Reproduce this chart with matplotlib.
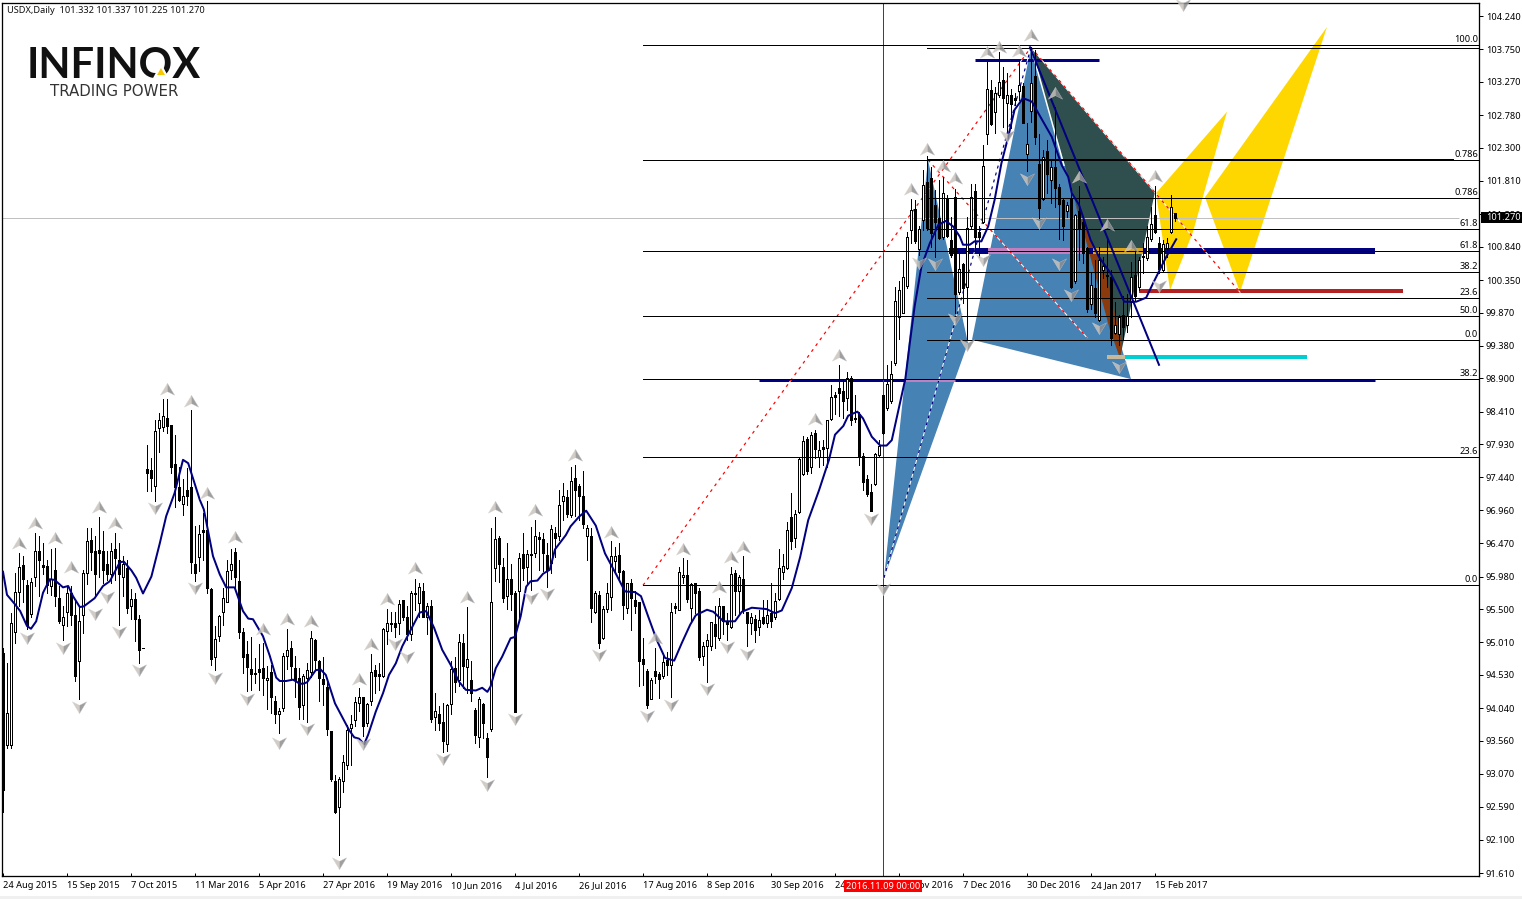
import matplotlib
matplotlib.use("Agg")
import matplotlib.pyplot as plt
import numpy as np
from matplotlib.path import Path
from matplotlib.patches import Polygon, Rectangle

# ======================
# candles
# ======================
body_top = [
    94.85, 93.97, 95.30, 95.75, 96.12, 96.15, 95.86, 95.90, 96.35, 96.35,
    96.15, 96.13, 95.95, 96.07, 95.66, 95.38, 95.74, 95.74, 95.41, 95.33,
    96.03, 96.50, 96.52, 96.35, 96.37, 96.35, 96.17, 96.36, 96.39, 96.23,
    96.16, 96.11, 95.65, 95.65, 95.36, 94.92, 97.56, 97.55, 98.13, 98.28,
    98.35, 98.32, 98.21, 97.64, 97.30, 97.17, 97.26, 97.30, 96.17, 96.61,
    96.66, 96.67, 95.80, 95.06, 95.40, 95.66, 96.06, 96.16, 96.34, 95.92,
    95.16, 94.84, 94.62, 94.56, 94.61, 94.63, 94.49, 94.58, 94.14, 94.00,
    94.81, 94.90, 94.93, 94.63, 94.48, 94.52, 94.60, 95.08, 95.05, 94.73,
    94.47, 94.35, 93.70, 92.97, 93.00, 93.24, 93.72, 93.81, 94.13, 94.20,
    94.20, 94.10, 94.58, 94.60, 94.54, 95.20, 95.29, 95.29, 95.29, 95.58,
    95.64, 95.39, 95.73, 95.73, 95.82, 95.77, 95.54, 95.55, 94.00, 93.95,
    93.84, 94.09, 94.61, 94.63, 95.02, 95.00, 94.76, 94.46, 94.01, 94.18,
    94.10, 93.60, 95.60, 96.54, 96.55, 96.12, 95.95, 95.95, 95.74, 96.26,
    96.31, 96.31, 96.31, 96.58, 96.56, 96.54, 96.29, 96.68, 96.62, 97.04,
    97.16, 97.15, 97.39, 97.43, 97.31, 97.16, 96.69, 96.57, 95.73, 95.71,
    95.50, 95.73, 96.28, 96.28, 96.30, 96.06, 95.89, 95.89, 95.64, 95.60,
    94.76, 94.59, 94.46, 94.59, 94.54, 94.72, 94.75, 95.45, 95.55, 96.04,
    96.00, 96.00, 95.87, 95.88, 95.77, 94.96, 95.05, 95.31, 95.28, 95.55,
    95.54, 95.33, 96.02, 96.03, 95.98, 95.94, 95.45, 95.39, 95.35, 95.34,
    95.38, 95.42, 95.44, 95.62, 96.10, 96.13, 96.66, 96.85, 96.90, 97.71,
    97.97, 98.00, 98.07, 98.10, 97.85, 97.89, 98.28, 98.62, 98.66, 98.76,
    98.72, 98.90, 98.90, 98.31, 98.38, 97.75, 97.41, 97.22, 97.78, 97.90,
    98.66, 98.82, 98.96, 100.04, 100.21, 100.39, 100.98, 101.38, 101.40, 101.10,
    101.75, 101.80, 101.85, 101.46, 101.26, 101.63, 101.55, 100.94, 101.57, 100.51,
    100.59, 101.11, 101.58, 101.66, 101.06, 102.03, 103.16, 103.15, 103.10, 103.27,
    103.30, 103.08, 103.08, 103.03, 103.23, 103.21, 102.36, 103.25, 103.36, 102.06,
    102.17, 102.25, 102.01, 102.02, 101.72, 101.53, 101.46, 101.55, 101.31, 101.36,
    101.21, 100.82, 100.27, 100.23, 100.65, 100.55, 100.43, 100.39, 99.69, 99.80,
    99.83, 99.82, 100.39, 100.43, 100.65, 100.71, 100.98, 101.18, 101.31, 100.90,
    100.88, 100.90, 101.43, 101.332,
]
body_bottom = [
    92.83, 93.50, 93.50, 95.16, 95.75, 95.95, 95.27, 95.43, 95.98, 96.22,
    96.12, 95.86, 95.84, 95.70, 95.33, 95.26, 95.45, 95.42, 94.52, 94.73,
    95.41, 96.03, 96.34, 96.02, 96.32, 96.08, 96.02, 96.02, 96.25, 96.01,
    95.98, 95.52, 95.55, 95.36, 94.90, 94.92, 97.50, 97.43, 97.31, 98.17,
    98.18, 98.20, 97.59, 97.30, 97.11, 97.05, 97.17, 96.19, 96.03, 96.27,
    96.63, 95.81, 94.76, 94.80, 95.10, 95.45, 95.61, 96.07, 95.98, 95.16,
    94.80, 94.65, 94.55, 94.55, 94.58, 94.48, 94.45, 94.21, 93.95, 93.96,
    94.04, 94.81, 94.66, 94.46, 94.05, 94.08, 94.48, 94.58, 94.75, 94.48,
    94.39, 93.73, 92.99, 92.51, 92.59, 92.96, 93.20, 93.74, 93.87, 94.11,
    93.78, 93.82, 94.14, 94.52, 94.52, 94.52, 95.17, 95.28, 95.23, 95.29,
    95.39, 95.13, 95.13, 95.72, 95.59, 95.39, 95.38, 93.88, 93.91, 93.82,
    93.56, 93.51, 94.10, 94.42, 94.46, 94.66, 94.64, 94.27, 93.64, 93.61,
    93.82, 93.32, 93.73, 96.10, 96.17, 95.66, 95.70, 95.72, 93.99, 95.76,
    96.11, 96.12, 96.30, 96.32, 96.54, 96.33, 96.07, 96.18, 96.55, 96.58,
    97.10, 96.90, 96.89, 97.26, 97.16, 96.75, 96.57, 95.51, 95.46, 95.00,
    95.08, 95.50, 95.68, 96.21, 96.05, 95.56, 95.51, 95.67, 95.55, 94.73,
    94.69, 94.09, 94.18, 94.52, 94.47, 94.52, 94.67, 94.67, 95.51, 95.49,
    95.97, 95.65, 95.51, 95.73, 94.80, 94.81, 94.96, 94.95, 95.10, 95.07,
    95.33, 95.28, 95.23, 95.77, 95.76, 95.48, 95.30, 95.29, 95.19, 95.23,
    95.30, 95.30, 95.33, 95.39, 95.65, 96.05, 96.11, 96.50, 96.55, 96.93,
    97.49, 97.53, 97.60, 97.86, 97.74, 97.86, 97.87, 98.30, 98.63, 98.68,
    98.57, 98.61, 98.28, 98.30, 97.76, 97.38, 97.19, 96.94, 97.34, 97.77,
    98.09, 98.46, 98.56, 99.12, 99.80, 99.87, 100.26, 101.08, 100.92, 100.81,
    101.23, 101.11, 101.05, 101.20, 100.97, 100.98, 101.00, 100.72, 100.14, 100.18,
    100.23, 100.24, 101.14, 100.99, 100.99, 101.20, 102.50, 102.65, 102.82, 103.08,
    103.03, 102.96, 102.95, 103.01, 103.14, 102.67, 102.21, 102.84, 102.46, 101.41,
    101.54, 101.91, 101.82, 101.71, 101.47, 101.15, 101.37, 100.24, 100.33, 101.11,
    100.75, 99.92, 100.00, 99.87, 99.76, 100.50, 100.41, 99.50, 99.57, 99.55,
    99.66, 99.68, 100.02, 100.11, 100.24, 100.69, 100.68, 100.95, 101.06, 100.51,
    100.50, 100.82, 101.06, 101.27,
]
highs = [
    94.93, 94.71, 95.44, 96.03, 96.33, 96.28, 95.93, 95.96, 96.62, 96.57,
    96.47, 96.23, 96.39, 96.40, 95.84, 95.54, 95.84, 95.84, 95.64, 95.54,
    96.08, 96.70, 96.70, 96.57, 96.86, 96.65, 96.35, 96.47, 96.62, 96.48,
    96.28, 96.23, 95.79, 95.74, 95.42, 94.92, 97.92, 97.73, 98.29, 98.39,
    98.59, 98.60, 98.22, 98.06, 97.60, 97.41, 97.58, 98.44, 96.72, 96.74,
    96.92, 97.09, 95.81, 95.25, 95.42, 95.81, 96.23, 96.39, 96.40, 96.22,
    95.22, 95.03, 95.09, 94.78, 94.98, 95.00, 94.66, 94.68, 94.22, 94.04,
    94.85, 95.21, 95.03, 94.81, 94.63, 94.55, 94.70, 95.18, 95.06, 94.75,
    94.79, 94.42, 93.71, 93.05, 93.02, 93.35, 93.79, 93.94, 94.21, 94.33,
    94.21, 94.11, 94.84, 94.68, 94.70, 95.22, 95.50, 95.46, 95.46, 95.64,
    95.64, 95.54, 95.76, 95.95, 95.88, 95.89, 95.59, 95.63, 94.26, 94.07,
    94.11, 94.10, 94.73, 94.80, 95.14, 95.14, 95.53, 94.73, 94.04, 94.20,
    94.11, 93.67, 96.69, 96.85, 96.57, 96.26, 96.47, 96.17, 95.76, 96.33,
    96.62, 96.37, 96.71, 96.81, 96.64, 96.62, 96.47, 96.74, 96.71, 97.26,
    97.36, 97.26, 97.59, 97.62, 97.35, 97.53, 96.74, 96.69, 95.76, 95.76,
    95.54, 95.88, 96.51, 96.41, 96.47, 96.08, 95.89, 95.95, 95.76, 95.61,
    95.07, 94.61, 94.48, 94.93, 94.58, 94.82, 94.87, 95.59, 95.59, 96.12,
    96.25, 96.23, 95.88, 95.89, 95.81, 95.02, 95.13, 95.31, 95.54, 95.67,
    95.55, 95.44, 96.12, 96.08, 96.00, 96.28, 95.46, 95.44, 95.41, 95.49,
    95.63, 95.63, 95.88, 95.73, 96.38, 96.31, 96.78, 97.21, 96.96, 97.72,
    98.05, 98.04, 98.11, 98.14, 97.97, 97.99, 98.29, 98.80, 98.70, 99.10,
    98.88, 99.00, 98.93, 98.66, 98.41, 97.80, 97.48, 97.35, 97.80, 97.99,
    98.66, 99.10, 99.15, 100.25, 100.33, 100.65, 101.06, 101.54, 101.53, 101.14,
    101.97, 102.18, 102.02, 101.68, 101.82, 101.87, 101.60, 101.28, 101.69, 100.79,
    100.60, 101.28, 101.77, 101.77, 101.14, 102.34, 103.57, 103.30, 103.20, 103.71,
    103.49, 103.40, 103.17, 103.10, 103.59, 103.25, 102.66, 103.78, 103.74, 102.50,
    102.27, 102.41, 102.12, 102.90, 101.77, 101.55, 101.50, 101.70, 101.33, 101.73,
    101.28, 100.84, 100.45, 100.65, 100.84, 100.69, 100.96, 100.50, 100.03, 99.83,
    100.11, 100.15, 100.62, 100.79, 100.69, 100.89, 101.14, 101.43, 101.73, 100.99,
    100.94, 100.97, 101.60, 101.337,
]
lows = [
    92.51, 93.45, 93.45, 95.00, 95.54, 95.61, 95.20, 95.39, 95.84, 95.70,
    96.01, 95.74, 95.71, 95.54, 95.30, 95.04, 95.25, 95.27, 94.44, 94.17,
    95.15, 95.87, 96.08, 95.68, 95.98, 95.88, 95.93, 95.88, 95.93, 95.27,
    95.69, 95.44, 95.35, 95.03, 94.71, 94.92, 97.24, 97.24, 97.10, 97.82,
    98.12, 98.09, 97.51, 97.01, 97.09, 96.89, 97.04, 96.03, 95.92, 96.06,
    96.23, 95.74, 94.67, 94.60, 95.03, 95.27, 95.60, 95.94, 95.81, 95.07,
    94.56, 94.29, 94.31, 94.41, 94.31, 94.24, 94.02, 93.97, 93.82, 93.68,
    94.00, 94.61, 94.46, 94.21, 93.88, 93.88, 93.84, 94.50, 94.60, 94.15,
    94.09, 93.64, 92.96, 92.49, 91.87, 92.81, 93.15, 93.20, 93.78, 94.00,
    93.63, 93.77, 94.08, 94.26, 94.30, 94.50, 94.99, 95.17, 95.09, 95.14,
    95.34, 95.05, 95.05, 95.49, 95.39, 95.39, 95.14, 93.84, 93.72, 93.72,
    93.40, 93.41, 93.96, 94.28, 94.36, 94.33, 94.27, 94.15, 93.53, 93.46,
    93.60, 93.02, 93.71, 95.92, 95.90, 95.61, 95.50, 95.48, 93.99, 95.39,
    95.93, 95.88, 95.78, 96.27, 96.08, 96.06, 95.83, 96.03, 96.27, 96.52,
    96.81, 96.86, 96.85, 96.87, 96.81, 96.70, 96.23, 95.31, 95.44, 94.93,
    95.06, 95.46, 95.49, 96.05, 95.93, 95.36, 95.44, 95.19, 95.44, 94.36,
    94.38, 94.04, 94.17, 94.41, 94.19, 94.48, 94.53, 94.20, 95.44, 95.48,
    95.88, 95.61, 95.32, 95.44, 94.75, 94.68, 94.43, 94.90, 94.92, 95.05,
    95.14, 95.05, 95.22, 95.41, 95.44, 95.44, 94.95, 95.14, 95.01, 95.12,
    95.28, 95.24, 95.24, 95.36, 95.63, 95.95, 96.09, 96.39, 96.42, 96.91,
    97.48, 97.49, 97.50, 97.72, 97.59, 97.62, 97.60, 98.29, 98.38, 98.34,
    98.31, 98.43, 98.21, 98.26, 97.62, 97.25, 97.16, 96.94, 97.33, 97.76,
    98.08, 98.44, 98.54, 99.10, 99.48, 99.86, 100.23, 100.89, 100.89, 100.72,
    101.09, 101.09, 100.84, 100.69, 100.96, 100.96, 100.99, 100.69, 99.86, 100.15,
    100.01, 99.48, 101.11, 100.79, 100.69, 101.19, 102.35, 102.63, 102.51, 103.05,
    102.61, 102.54, 102.59, 102.93, 103.00, 102.66, 101.95, 102.68, 102.36, 101.27,
    101.53, 101.63, 101.49, 101.43, 100.96, 100.94, 101.28, 100.23, 100.30, 100.65,
    100.60, 99.88, 99.92, 99.80, 99.75, 100.38, 100.25, 99.39, 99.55, 99.39,
    99.47, 99.59, 99.81, 100.06, 100.20, 100.45, 100.65, 100.93, 101.04, 100.45,
    100.49, 100.69, 101.05, 101.225,
]
# W = up candle (white body), B = down candle (black body)
candle_kind = (
    "BWWWWBBWWB" "BBWBBWWBBW" "WWBBBBBWBB" "WBWBBBBBWW" "WBBBBWBBBW"
    "BBBWWWWWBB" "BBBBBBWBBW" "WWBBBWWWBB" "BBBBWWWWWW" "BWWBBWWBBW"
    "BBWBWBWBWB" "BWWBWBWBBW" "BBWWBBWBBW" "BWBWBBBWBW" "WBWBBBWBWB"
    "WWWWBBWBBB" "BBWBBWBWBW" "WBWBBWWWBW" "BBWBWBBWBW" "BWBWWWWBWW"
    "WBWBWBWWBB" "BWBBBBBBWW" "BWWWWWWWBW" "WBBBBWBBBW" "BWWBBWWBWW"
    "BWBBWBWWBB" "WBWBBBWBWB" "BBWBWWWBWW" "BWWBWBWWBB" "WWWB"
)

# moving average, read at selected bars
ma_bars = [
    0, 1, 3, 4.3, 6, 7, 8.3, 10, 11.7, 12.9, 15, 16.3, 17.5, 19.2, 20.2, 22.9, 25, 26.7, 29.2, 30.2,
    32.1, 33.3, 35, 37.1, 39.2, 40.8, 42.9, 45, 46.3, 49.2, 50.2, 51.2, 52.5, 54.2, 55.8, 57.9, 60,
    61.3, 62.5, 65, 66.7, 68.3, 69.2, 70.8, 72.5, 74.2, 75, 76, 78.2, 79.4, 80.7, 83, 84.8, 86.5,
    87.8, 89, 90.3, 91.3, 93.2, 95, 96.5, 98.2, 99.8, 101.9, 104.2, 105.8, 107.8, 109.8, 111.9, 114,
    115.7, 118.2, 119.8, 121.1, 121.9, 123.2, 124.8, 126.9, 128, 129.4, 130.8, 131.9, 133.6, 135,
    136.7, 138, 140.7, 141.9, 144, 145.8, 148.2, 150.5, 153.4, 155.5, 158, 159.5, 161.3, 163.4,
    165.5, 167.8, 169.7, 171.8, 173.2, 176, 177.6, 180.1, 183, 184.7, 187.2, 190.9, 193, 194.7,
    197.2, 199.3, 201.3, 204, 206.5, 208, 210.1, 211.3, 213.6, 215, 217.2, 219.3, 220.9, 222.2,
    225.6, 226.7, 227.9, 229.6, 231.7, 233.8, 235.7, 237.5, 239.2, 240, 241.7, 242.9, 244.6, 246.3,
    247.9, 249.6, 251.3, 252.9, 255, 257.2, 259.3, 262.2, 264.7, 266.3, 267.2, 269, 270.3, 271.9,
    274, 276.9, 278.6, 280.3, 283.3, 285.8, 287.5, 289.2, 290.8, 293.3,
]
ma_values = [
    96.05, 95.71, 95.57, 95.47, 95.25, 95.21, 95.32, 95.74, 95.94, 95.93, 95.82, 95.84, 95.69, 95.53,
    95.54, 95.66, 95.84, 95.91, 96.19, 96.20, 96.07, 95.96, 95.73, 95.98, 96.47, 96.87, 97.21, 97.70,
    97.65, 97.11, 96.97, 96.67, 96.28, 96.01, 95.82, 95.82, 95.47, 95.36, 95.35, 95.10, 94.81, 94.49,
    94.44, 94.44, 94.46, 94.40, 94.40, 94.42, 94.60, 94.61, 94.53, 94.11, 93.91, 93.72, 93.61, 93.59,
    93.51, 93.65, 93.99, 94.26, 94.53, 94.70, 94.95, 95.19, 95.45, 95.47, 95.22, 94.90, 94.68, 94.43,
    94.31, 94.30, 94.34, 94.28, 94.36, 94.63, 94.80, 95.07, 95.09, 95.39, 95.83, 95.91, 95.92, 96.02,
    96.08, 96.38, 96.59, 96.72, 96.86, 96.95, 96.73, 96.32, 96.00, 95.76, 95.75, 95.69, 95.39, 95.05,
    94.78, 94.74, 95.00, 95.27, 95.41, 95.49, 95.46, 95.32, 95.32, 95.46, 95.52, 95.50, 95.44, 95.48,
    95.81, 96.27, 96.81, 97.25, 97.70, 98.07, 98.20, 98.35, 98.41, 98.31, 98.04, 97.91, 97.91, 97.99,
    98.90, 99.42, 99.96, 100.55, 100.89, 101.16, 101.22, 101.14, 100.99, 100.87, 100.87, 100.92,
    100.92, 101.14, 101.53, 102.07, 102.46, 102.86, 103.03, 102.98, 102.76, 102.46, 102.04, 101.87,
    101.63, 101.46, 101.23, 100.94, 100.69, 100.45, 100.25, 100.03, 100.03, 100.09, 100.30, 100.50,
    100.69, 100.95,
]

# fractal arrows
up_bars = [4, 8, 13, 17, 24, 28, 41, 47, 51, 58, 65, 71, 77, 89, 92, 96, 103, 116, 123, 133, 143,
           152, 163, 170, 179, 182, 185, 203, 209, 227, 231, 235, 238, 246, 249, 254, 257, 263, 269,
           276, 282, 288]
up_prices = [96.47, 96.77, 96.55, 96.12, 97.00, 96.77, 98.74, 98.57, 97.21, 96.56, 95.21, 95.35,
             95.32, 94.47, 94.99, 95.65, 96.11, 95.68, 97.00, 96.96, 97.77, 96.64, 95.07, 96.39,
             95.83, 96.27, 96.42, 98.30, 99.24, 101.69, 102.28, 102.03, 101.85, 103.71, 103.78,
             103.72, 103.96, 103.10, 101.87, 101.16, 100.85, 101.88]
down_bars = [6, 15, 19, 23, 26, 29, 34, 38, 48, 53, 61, 69, 76, 84, 90, 98, 101, 110, 121, 128, 132,
             136, 149, 161, 167, 176, 181, 186, 217, 220, 229, 233, 238, 241, 245, 251, 256, 259,
             264, 267, 274, 279, 289, 295]
down_prices = [95.07, 94.93, 94.06, 95.43, 95.68, 95.16, 94.60, 96.99, 95.81, 94.48, 94.17, 93.53,
               93.73, 91.76, 93.51, 94.99, 94.79, 93.29, 92.91, 93.88, 95.66, 95.72, 94.82, 93.92,
               94.09, 94.32, 94.94, 94.84, 96.83, 95.80, 100.60, 100.59, 99.78, 99.39, 100.64,
               102.47, 101.84, 101.19, 100.59, 100.13, 99.64, 99.07, 100.26, 104.40]

# pattern corners (bar, price)
blue_left = [(220.25, 95.96), (231.25, 102.12), (241.25, 99.42)]
blue_right = [(242.25, 99.47), (257, 103.78), (282, 98.89)]
dark_poly = [(257, 103.78), (288, 101.65), (279.25, 99.20)]
brown_poly = [(268, 101.48), (271.25, 101.04), (276, 100.35), (279.75, 99.42), (279.25, 99.20),
              (276.75, 99.61), (270.25, 101.04)]
gold_left = [(288.25, 101.63), (306, 102.83), (297.5, 101.06), (291.75, 100.20)]
gold_right = [(300.5, 101.57), (331, 104.08), (309.25, 100.17)]

# fibonacci levels
fib_long = [103.81, 102.12, 100.78, 99.82, 98.89, 97.74, 95.85]
fib_short = [103.77, 101.56, 101.10, 100.47, 100.08, 99.47]
fib_label_prices = [103.81, 102.12, 101.56, 101.10, 100.78, 100.47, 100.08, 99.82, 99.47, 98.89, 97.74, 95.85]
fib_labels = ["100.0", "0.786", "0.786", "61.8", "61.8", "38.2", "23.6", "50.0", "0.0", "38.2", "23.6", "0.0"]

price_ticks = [104.240, 103.750, 103.270, 102.780, 102.300, 101.810, 101.320, 100.840, 100.350,
               99.870, 99.380, 98.900, 98.410, 97.930, 97.440, 96.960, 96.470, 95.980, 95.500,
               95.010, 94.530, 94.040, 93.560, 93.070, 92.590, 92.100, 91.610]
date_labels = ["24 Aug 2015", "15 Sep 2015", "7 Oct 2015", "11 Mar 2016", "5 Apr 2016", "27 Apr 2016",
               "19 May 2016", "10 Jun 2016", "4 Jul 2016", "26 Jul 2016", "17 Aug 2016", "8 Sep 2016",
               "30 Sep 2016", "24 Oct 2016", "15 Nov 2016", "7 Dec 2016", "30 Dec 2016", "24 Jan 2017",
               "15 Feb 2017"]

NAVY = "#000080"
FONT = "Noto Sans"
FS = 6.65
PX = 0.72  # one pixel in points at dpi 100

# ======================
# figure
# ======================
fig = plt.figure(figsize=(15.22, 8.99), dpi=100, facecolor="white")
fig.patches.append(Rectangle((0, 0), 1, 3 / 899, transform=fig.transFigure, facecolor="#f0f0f0", edgecolor="none"))
ax = fig.add_axes([2 / 1522, 1 - 876 / 899, 1477 / 1522, 873.5 / 899])
ax.set_xlim(-0.25, 369)
ax.set_ylim(91.566, 104.44)

# patterns
for pts, col in [(blue_left, "#4682b4"), (blue_right, "#4682b4"), (dark_poly, "#2f4f4f"),
                 (brown_poly, "#8b3a0e"), (gold_left, "#ffd700"), (gold_right, "#ffd700")]:
    ax.add_patch(Polygon(pts, closed=True, facecolor=col, edgecolor="none", zorder=1))

# thick levels
ax.hlines(103.59, 243, 274, color=NAVY, lw=3 * PX, zorder=2)
ax.hlines(100.78, 236.5, 343, color=NAVY, lw=6 * PX, zorder=2)
ax.hlines(100.78, 246.25, 271, color="#c080c0", lw=6 * PX, zorder=2.1)
ax.hlines(100.78, 272.5, 285, color="#daa520", lw=6 * PX, zorder=2.1)
ax.hlines(98.88, 189, 343, color=NAVY, lw=3 * PX, zorder=2)
ax.hlines(98.88, 225.5, 238, color="#c080c0", lw=3 * PX, zorder=2.1)
ax.hlines(100.19, 284, 350, color="#b22222", lw=4 * PX, zorder=2)
ax.hlines(99.22, 276, 326, color="#00ced1", lw=4 * PX, zorder=2)
ax.hlines(99.22, 276, 280.5, color="#c8b89a", lw=4 * PX, zorder=2.1)

# current price and crosshair
ax.hlines(101.27, -0.25, 364, color="#c0c0c0", lw=PX, zorder=2.2)
ax.axvline(220, color="#e00000", lw=PX, zorder=2.2)

# candles
bars = np.arange(len(highs))
ax.vlines(bars, lows, highs, color="black", lw=PX, zorder=3, antialiased=False)
tops = np.array(body_top)
bottoms = np.array(body_bottom)
fills = ["white" if k == "W" else "black" for k in candle_kind]
ax.bar(bars, tops - bottoms, bottom=bottoms, width=0.5, color=fills, edgecolor="black",
       linewidth=PX, zorder=3.1, antialiased=False)

# fib lines
ax.hlines(fib_long, 160, 369, color="black", lw=PX, zorder=3.5, antialiased=False)
ax.hlines(fib_short, 231, 369, color="black", lw=PX, zorder=3.5, antialiased=False)
ax.hlines(102.135, 231, 362.5, color="black", lw=PX, zorder=3.5, antialiased=False)
for p, lab in zip(fib_label_prices, fib_labels):
    ax.text(368.8, p + 0.015, lab, ha="right", va="bottom", fontsize=FS, family=FONT, color="black", zorder=6)

# dotted pattern legs
for xs, ys, col in [([160, 257], [95.85, 103.78], "red"),
                    ([231.25, 271], [102.12, 99.50], "red"),
                    ([257, 309.25], [103.78, 100.17], "red"),
                    ([220.25, 257], [95.96, 103.78], NAVY)]:
    ax.plot(xs, ys, color="white", lw=PX, zorder=2.5)
    ax.plot(xs, ys, color=col, lw=PX * 1.2, ls=(0, (2.5, 3.5)), zorder=2.6)
ax.plot([257, 265.25], [103.78, 102.04], color="white", lw=PX * 1.5, zorder=2.5)

# moving average and trend line
ax.plot(ma_bars, ma_values, color=NAVY, lw=2 * PX, zorder=4)
ax.plot([256.75, 289], [103.78, 99.10], color=NAVY, lw=2 * PX, zorder=4)

# fractal arrows, two facets each
up_left = Path([(0, 0.85), (-1, -0.8), (0, -0.3), (0, 0.85)], closed=True)
up_right = Path([(0, 0.85), (1, -0.8), (0, -0.3), (0, 0.85)], closed=True)
down_left = Path([(0, -0.85), (-1, 0.8), (0, 0.3), (0, -0.85)], closed=True)
down_right = Path([(0, -0.85), (1, 0.8), (0, 0.3), (0, -0.85)], closed=True)
for xs, ys, left, right in [(up_bars, up_prices, up_left, up_right),
                            (down_bars, down_prices, down_left, down_right)]:
    ax.scatter(xs, ys, marker=left, s=105, facecolor="#c9c3bc", edgecolor="#d8d4d0",
               linewidth=0.3, alpha=0.85, zorder=5, clip_on=False)
    ax.scatter(xs, ys, marker=right, s=105, facecolor="#8e8e90", edgecolor="#c4c4c8",
               linewidth=0.3, alpha=0.85, zorder=5, clip_on=False)

# axes
for s in ax.spines.values():
    s.set_linewidth(PX * 1.3)
ax.yaxis.tick_right()
ax.set_yticks(price_ticks)
ax.set_yticklabels([f"{t:.3f}" for t in price_ticks], fontsize=FS, family=FONT)
ax.tick_params(axis="y", length=3, width=PX, pad=2)
ax.set_xticks(np.arange(len(date_labels)) * 16)
ax.set_xticklabels(date_labels, fontsize=FS, family=FONT, ha="left")
ax.tick_params(axis="x", length=2.5, width=PX, pad=3.5, direction="in")

# price tag
ax.add_patch(Rectangle((1.0014, 101.27 - 0.085), 0.0296, 0.17, transform=ax.get_yaxis_transform(),
                       facecolor="black", edgecolor="none", clip_on=False, zorder=7))
ax.text(1.0048, 101.27, "101.270", transform=ax.get_yaxis_transform(), color="white", fontsize=FS,
        family=FONT, va="center", ha="left", zorder=8, clip_on=False)

# crosshair date box
ax.text(220, -0.0115, "2016.11.09 00:00", transform=ax.get_xaxis_transform(), color="white", fontsize=FS,
        family=FONT, va="center", ha="center", zorder=8, clip_on=False,
        bbox=dict(facecolor="#ff0000", edgecolor="none", pad=1.4))

# header and logo
fig.text(7 / 1522, 1 - 10.5 / 899, "USDX,Daily  101.332 101.337 101.225 101.270", fontsize=FS, family=FONT,
         va="center", ha="left", color="#111111")
fig.text(27 / 1522, 1 - 66 / 899, "INFINOX", fontsize=30, family="Lato", weight="bold", va="center",
         ha="left", color="#111111")
fig.text(50 / 1522, 1 - 92 / 899, "TRADING POWER", fontsize=10.8, family="DejaVu Sans", va="center", ha="left",
         color="#333333")
fig.patches.append(Polygon([(161 / 1522, 1 - 63 / 899), (152 / 1522, 1 - 80 / 899), (170 / 1522, 1 - 80 / 899)],
                           transform=fig.transFigure, facecolor="white", edgecolor="none", zorder=5))
fig.patches.append(Polygon([(161 / 1522, 1 - 68 / 899), (157 / 1522, 1 - 75 / 899), (165 / 1522, 1 - 75 / 899)],
                           transform=fig.transFigure, facecolor="#f5c800", edgecolor="none", zorder=6))

plt.savefig("out.png", dpi=100)
